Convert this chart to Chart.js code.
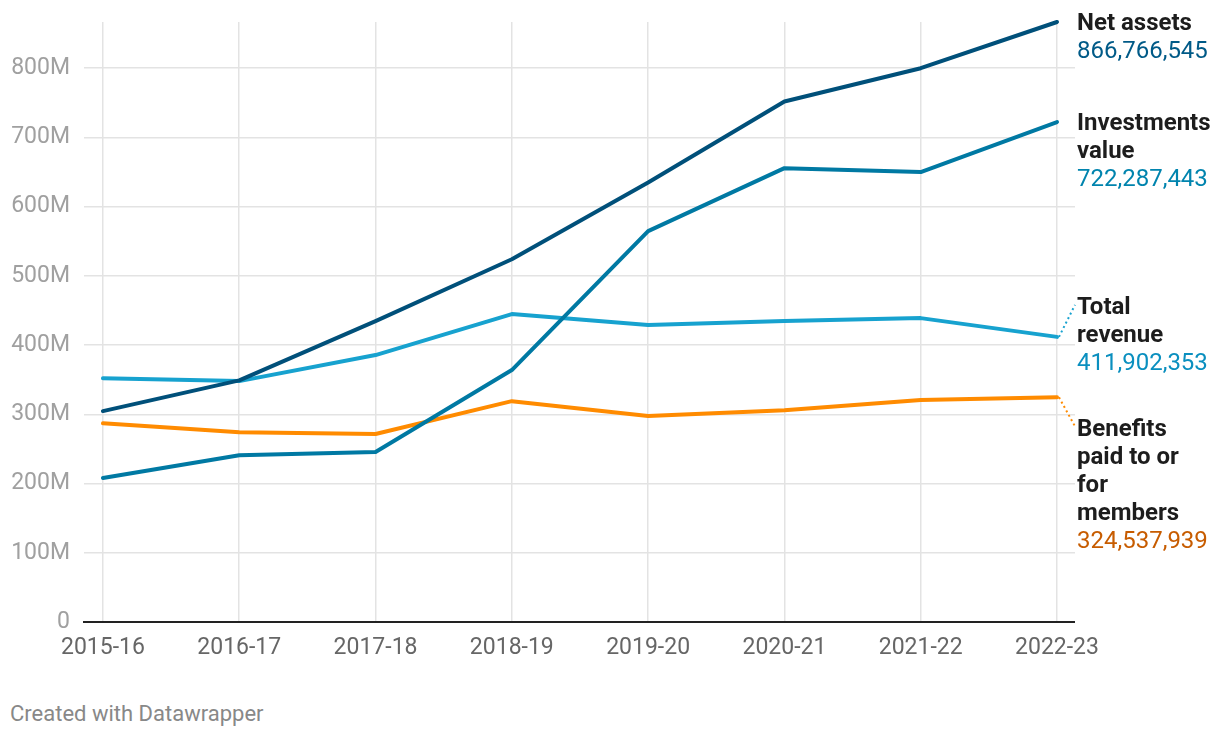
<!DOCTYPE html>
<html>
<head>
<meta charset="utf-8">
<script src="https://cdn.jsdelivr.net/npm/chart.js@4"></script>
<style>
  body { margin: 0; background: #fff; font-family: Roboto, sans-serif; }
  #wrap { position: absolute; left: 0; top: 0; width: 1220px; height: 680px; }
  #foot { position: absolute; left: 10px; top: 701px; font-size: 22px; color: #888; }
</style>
</head>
<body>
<div id="wrap"><canvas id="myChart"></canvas></div>
<div id="foot">Created with Datawrapper</div>
<script>
// values in millions
var years = ["2015-16", "2016-17", "2017-18", "2018-19", "2019-20", "2020-21", "2021-22", "2022-23"];
var netAssets = [304.7, 349, 434.7, 524, 635, 752, 800, 866.766545];
var investments = [208, 241, 245.5, 364, 564.6, 655.6, 650, 722.287443];
var totalRevenue = [352, 348, 385.6, 444.8, 428.9, 434.7, 439, 411.902353];
var benefits = [287, 274, 271.5, 319, 297.5, 306, 320.6, 324.537939];
var yTicks = [0, 100, 200, 300, 400, 500, 600, 700, 800];

var names = [["Net assets"], ["Investments", "value"], ["Total", "revenue"], ["Benefits", "paid to or", "for", "members"]];
var lineColors = ["#00507a", "#0079a3", "#17a2cf", "#ff8b00"];
var valueColors = ["#005a87", "#0084ae", "#0a8fbf", "#c75c00"];
var labelNudge = [0, 0, -31, 31];

function toPoints(arr) {
  return arr.map(function (v, i) { return { x: i, y: v }; });
}

var endLabels = {
  id: "endLabels",
  beforeDatasetsDraw: function (chart) {
    var ctx = chart.ctx, a = chart.chartArea;
    var y0 = chart.scales.y.getPixelForValue(0);
    ctx.save();
    ctx.strokeStyle = "#222";
    ctx.lineWidth = 2;
    ctx.beginPath();
    ctx.moveTo(a.left - 1, y0);
    ctx.lineTo(a.right, y0);
    ctx.stroke();
    ctx.restore();
  },
  afterDatasetsDraw: function (chart) {
    var ctx = chart.ctx, a = chart.chartArea;
    ctx.save();
    ctx.textBaseline = "middle";
    ctx.textAlign = "left";
    chart.data.datasets.forEach(function (ds, i) {
      var meta = chart.getDatasetMeta(i);
      var pt = meta.data[meta.data.length - 1];
      var ty = pt.y + labelNudge[i] + 2;
      var tx = a.right + 2;
      if (labelNudge[i] !== 0) {
        ctx.strokeStyle = lineColors[i];
        ctx.lineWidth = 2;
        ctx.setLineDash([2, 3]);
        ctx.beginPath();
        ctx.moveTo(pt.x + 2, pt.y);
        ctx.lineTo(tx - 2, ty + (labelNudge[i] < 0 ? -3 : -4));
        ctx.stroke();
        ctx.setLineDash([]);
      }
      ctx.font = "bold 24px Roboto";
      ctx.fillStyle = "#1d1d1d";
      names[i].forEach(function (t, k) {
        ctx.fillText(t, tx, ty + k * 28);
      });
      var v = ds.data[ds.data.length - 1].y;
      ctx.font = "24px Roboto";
      ctx.fillStyle = valueColors[i];
      ctx.fillText(Math.round(v * 1e6).toLocaleString("en-US"), tx, ty + names[i].length * 28);
    });
    ctx.restore();
  }
};

new Chart("myChart", {
  type: "line",
  data: {
    datasets: [
      { label: "Net assets", data: toPoints(netAssets), borderColor: lineColors[0] },
      { label: "Investments value", data: toPoints(investments), borderColor: lineColors[1] },
      { label: "Total revenue", data: toPoints(totalRevenue), borderColor: lineColors[2] },
      { label: "Benefits paid to or for members", data: toPoints(benefits), borderColor: lineColors[3] }
    ]
  },
  options: {
    responsive: true,
    maintainAspectRatio: false,
    animation: false,
    layout: { autoPadding: false, padding: { top: 22, right: 145, left: 0, bottom: 0 } },
    datasets: { line: { clip: false } },
    elements: {
      line: { borderWidth: 4, tension: 0, fill: false, borderCapStyle: "round", borderJoinStyle: "round" },
      point: { radius: 0, hoverRadius: 0 }
    },
    plugins: { legend: { display: false }, tooltip: { enabled: false } },
    scales: {
      x: {
        type: "linear",
        min: -0.139,
        max: 7.132,
        afterBuildTicks: function (axis) {
          axis.ticks = years.map(function (y, i) { return { value: i }; });
        },
        afterFit: function (scale) { scale.height = 58; scale.paddingLeft = 0; scale.paddingRight = 0; },
        border: { display: false },
        grid: { color: "#e3e3e3", lineWidth: 1.5, drawTicks: false },
        ticks: {
          autoSkip: false,
          maxRotation: 0,
          padding: 12,
          color: "#666",
          font: { family: "Roboto", size: 23 },
          callback: function (v) { return years[v]; }
        }
      },
      y: {
        min: 0,
        max: Math.max.apply(null, netAssets),
        afterBuildTicks: function (axis) {
          axis.ticks = yTicks.map(function (v) { return { value: v }; });
        },
        afterFit: function (scale) { scale.width = 84; scale.paddingTop = 0; scale.paddingBottom = 0; },
        border: { display: false },
        grid: {
          drawTicks: false,
          lineWidth: 1.5,
          color: function (c) { return c.tick && c.tick.value === 0 ? "rgba(0,0,0,0)" : "#e3e3e3"; }
        },
        ticks: {
          padding: 14,
          color: "#a0a0a0",
          font: { family: "Roboto", size: 23 },
          callback: function (v) { return v === 0 ? "0" : v + "M"; }
        }
      }
    }
  },
  plugins: [endLabels]
});
</script>
</body>
</html>
